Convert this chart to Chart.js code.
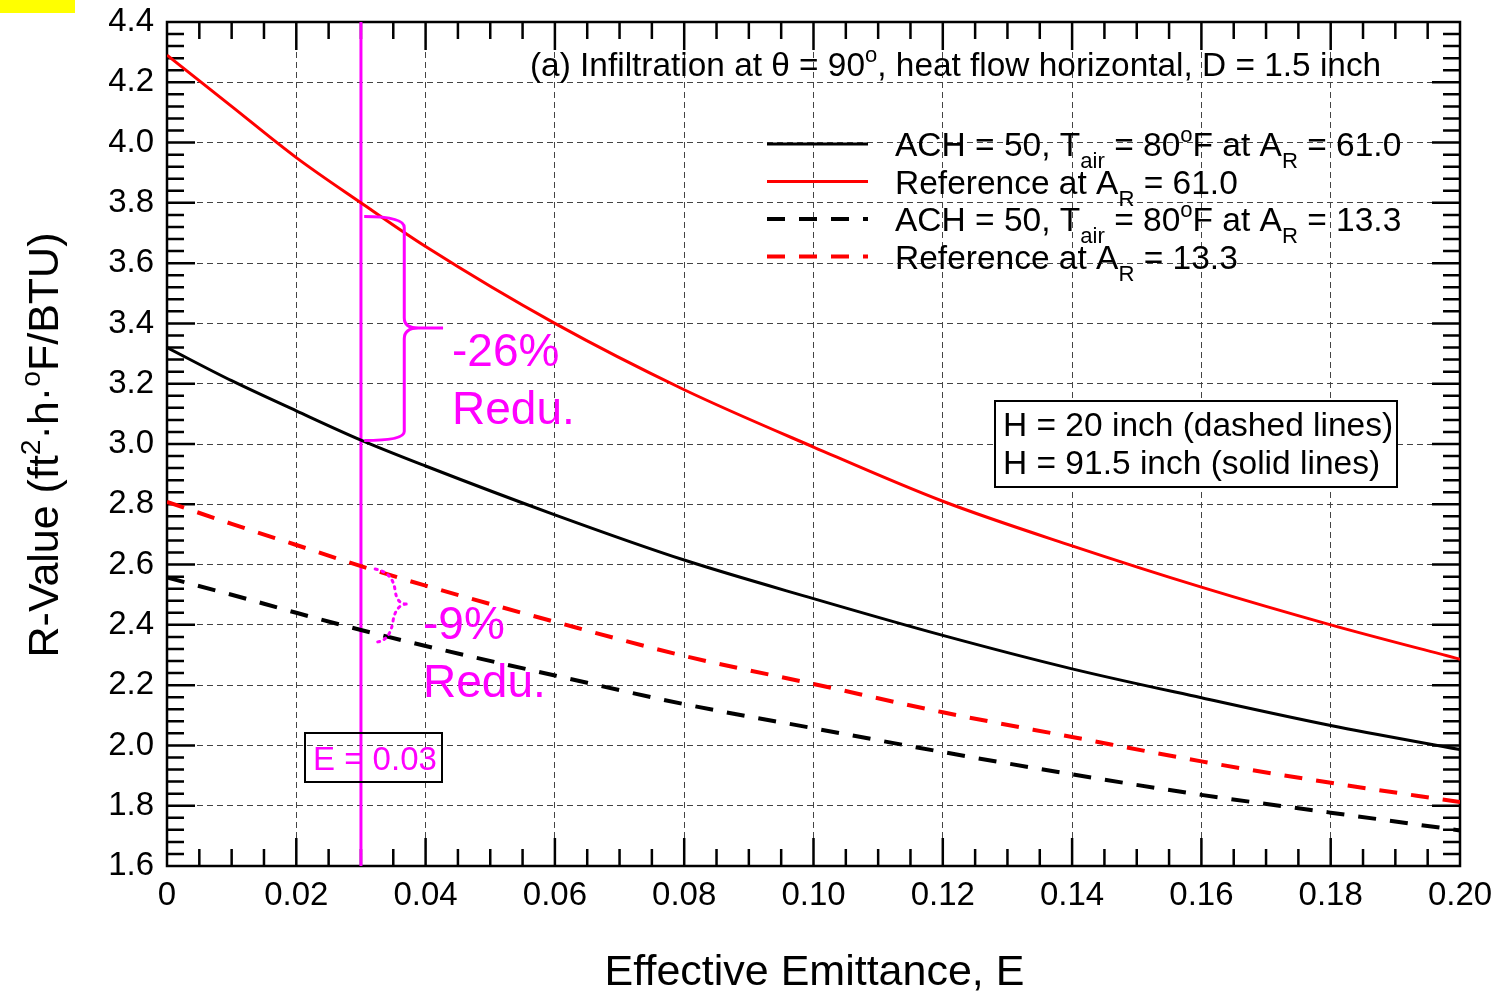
<!DOCTYPE html>
<html>
<head>
<meta charset="utf-8">
<title>R-Value vs Effective Emittance</title>
<script src="https://cdn.jsdelivr.net/npm/chart.js@4.4.0/dist/chart.umd.min.js"></script>
<style>
  html, body { margin: 0; padding: 0; background: #fff; }
  #wrap { width: 1510px; height: 994px; }
</style>
</head>
<body>
<div id="wrap"><canvas id="rChart" width="1510" height="994"></canvas></div>
<script>
// effective emittance E
const emittance = [0, 0.01, 0.02, 0.03, 0.04, 0.06, 0.08, 0.10, 0.12, 0.14, 0.16, 0.18, 0.20];

// R-values, ft2.h.F/BTU
// H = 91.5 inch (solid lines), A_R = 61.0
const achSolid = [3.32, 3.21, 3.11, 3.013, 2.927, 2.765, 2.615, 2.487, 2.365, 2.254, 2.158, 2.066, 1.986];
const refSolid = [4.29, 4.12, 3.95, 3.80, 3.655, 3.40, 3.18, 2.99, 2.81, 2.662, 2.525, 2.40, 2.286];
// H = 20 inch (dashed lines), A_R = 13.3
const achDashed = [2.557, 2.50, 2.44, 2.383, 2.33, 2.232, 2.137, 2.057, 1.978, 1.904, 1.836, 1.777, 1.718];
const refDashed = [2.808, 2.735, 2.665, 2.595, 2.53, 2.41, 2.297, 2.204, 2.11, 2.028, 1.947, 1.876, 1.812];

// marker line
const markE = 0.03;

// axis ranges / ticks
const xMin = 0, xMax = 0.20, xStep = 0.02, xMinor = 0.005;
const yMin = 1.6, yMax = 4.4, yStep = 0.2, yMinor = 0.04;

const FONT = "'Liberation Sans', Arial, Helvetica, sans-serif";
const MAGENTA = '#ff00ff';
const RED = '#ff0000';

function pts(ys) {
  return emittance.map((e, i) => ({ x: e, y: ys[i] }));
}

// draw text runs with sub/superscripts, returns width
function richText(ctx, runs, x, y, size, color, measureOnly) {
  let cx = x;
  for (const r of runs) {
    const s = r.sub || r.sup ? size * 0.66 : size;
    ctx.font = s + 'px ' + FONT;
    let dy = 0;
    if (r.sub) dy = size * 0.36;
    if (r.sup) dy = -size * 0.42;
    if (!measureOnly) {
      ctx.fillStyle = color;
      ctx.fillText(r.t, cx, y + dy);
    }
    cx += ctx.measureText(r.t).width;
  }
  return cx - x;
}

const legendItems = [
  { color: '#000', dash: [], width: 3,
    runs: [{ t: 'ACH = 50, T' }, { t: 'air', sub: 1 }, { t: ' = 80' }, { t: 'o', sup: 1 }, { t: 'F at A' }, { t: 'R', sub: 1 }, { t: ' = 61.0' }] },
  { color: RED, dash: [], width: 3,
    runs: [{ t: 'Reference at A' }, { t: 'R', sub: 1 }, { t: ' = 61.0' }] },
  { color: '#000', dash: [18, 14], width: 4,
    runs: [{ t: 'ACH = 50, T' }, { t: 'air', sub: 1 }, { t: ' = 80' }, { t: 'o', sup: 1 }, { t: 'F at A' }, { t: 'R', sub: 1 }, { t: ' = 13.3' }] },
  { color: RED, dash: [18, 14], width: 4,
    runs: [{ t: 'Reference at A' }, { t: 'R', sub: 1 }, { t: ' = 13.3' }] }
];

// frame and inward major/minor ticks, under the curves
const framePlugin = {
  id: 'frame',
  beforeDatasetsDraw(chart) {
    const ctx = chart.ctx;
    const a = chart.chartArea;
    const xs = chart.scales.x, ys = chart.scales.y;
    ctx.save();
    ctx.strokeStyle = '#000';
    ctx.lineWidth = 2.5;
    ctx.setLineDash([]);
    ctx.strokeRect(a.left, a.top, a.right - a.left, a.bottom - a.top);

    ctx.beginPath();
    const nx = Math.round((xMax - xMin) / xMinor);
    for (let i = 1; i < nx; i++) {
      const len = i % 4 === 0 ? 28 : 17;
      const x = xs.getPixelForValue(xMin + i * xMinor);
      ctx.moveTo(x, a.bottom); ctx.lineTo(x, a.bottom - len);
      ctx.moveTo(x, a.top); ctx.lineTo(x, a.top + len);
    }
    const ny = Math.round((yMax - yMin) / yMinor);
    for (let i = 1; i < ny; i++) {
      const len = i % 5 === 0 ? 28 : 17;
      const y = ys.getPixelForValue(yMin + i * yMinor);
      ctx.moveTo(a.left, y); ctx.lineTo(a.left + len, y);
      ctx.moveTo(a.right, y); ctx.lineTo(a.right - len, y);
    }
    ctx.stroke();
    ctx.restore();
  }
};

const decorPlugin = {
  id: 'decor',
  afterDraw(chart) {
    const ctx = chart.ctx;
    const a = chart.chartArea;
    const xs = chart.scales.x, ys = chart.scales.y;
    const px = v => xs.getPixelForValue(v);
    const py = v => ys.getPixelForValue(v);
    ctx.save();
    ctx.textAlign = 'left';
    ctx.textBaseline = 'alphabetic';

    // corner swatch
    ctx.fillStyle = '#ffff00';
    ctx.fillRect(0, 0, 75, 13);

    // axis titles
    ctx.fillStyle = '#000';
    ctx.font = '43px ' + FONT;
    ctx.textAlign = 'center';
    ctx.fillText('Effective Emittance, E', (a.left + a.right) / 2 + 1, 985);
    ctx.textAlign = 'left';
    const yTitle = [{ t: 'R-Value (ft' }, { t: '2', sup: 1 }, { t: '\u00b7h\u00b7' }, { t: 'o', sup: 1 }, { t: 'F/BTU)' }];
    ctx.save();
    ctx.translate(58, 445);
    ctx.rotate(-Math.PI / 2);
    const tw = richText(ctx, yTitle, 0, 0, 43, '#000', true);
    richText(ctx, yTitle, -tw / 2, 0, 43, '#000');
    ctx.restore();

    // panel title
    richText(ctx, [{ t: '(a) Infiltration at \u03b8 = 90' }, { t: 'o', sup: 1 }, { t: ', heat flow horizontal, D = 1.5 inch' }],
      530, 76, 33.4, '#000');

    // legend
    legendItems.forEach((it, i) => {
      const y = 144 + i * 37.5;
      ctx.beginPath();
      ctx.strokeStyle = it.color;
      ctx.lineWidth = it.width;
      ctx.setLineDash(it.dash);
      ctx.moveTo(767, y);
      ctx.lineTo(868, y);
      ctx.stroke();
      ctx.setLineDash([]);
      richText(ctx, it.runs, 895, y + 12, 33.5, '#000');
    });

    // H note box
    ctx.strokeStyle = '#000';
    ctx.lineWidth = 2;
    ctx.fillStyle = '#fff';
    ctx.fillRect(995, 401, 402, 86);
    ctx.strokeRect(995, 401, 402, 86);
    ctx.fillStyle = '#000';
    ctx.font = '33.5px ' + FONT;
    ctx.fillText('H = 20 inch (dashed lines)', 1003, 436);
    ctx.fillText('H = 91.5 inch (solid lines)', 1003, 474);

    // brace for the A_R = 61.0 pair
    ctx.strokeStyle = MAGENTA;
    ctx.lineWidth = 3;
    const bx0 = px(0.0305), bx1 = px(0.0367), bxt = px(0.0427);
    const bTop = py(3.755), bMid = py(3.385), bBot = py(3.012);
    ctx.beginPath();
    ctx.moveTo(bx0, bTop);
    ctx.quadraticCurveTo(bx1, bTop, bx1, bTop + 11);
    ctx.lineTo(bx1, bMid - 10);
    ctx.quadraticCurveTo(bx1, bMid, bx1 + 14, bMid);
    ctx.lineTo(bxt, bMid);
    ctx.moveTo(bx1 + 14, bMid);
    ctx.quadraticCurveTo(bx1, bMid, bx1, bMid + 11);
    ctx.lineTo(bx1, bBot - 9);
    ctx.quadraticCurveTo(bx1, bBot, bx0, bBot);
    ctx.stroke();

    // dotted brace for the A_R = 13.3 pair
    const dx0 = px(0.0322), dxt = px(0.0370);
    const dTop = py(2.585), dMid = py(2.469), dBot = py(2.343);
    ctx.setLineDash([2, 5]);
    ctx.lineCap = 'round';
    ctx.beginPath();
    ctx.moveTo(dx0, dTop);
    ctx.quadraticCurveTo(dx0 + 18, dTop + 3, dx0 + 20, dTop + 22);
    ctx.quadraticCurveTo(dx0 + 22, dMid, dxt, dMid);
    ctx.moveTo(dxt, dMid);
    ctx.quadraticCurveTo(dx0 + 21, dMid + 1, dx0 + 18, dMid + 16);
    ctx.quadraticCurveTo(dx0 + 15, dBot, dx0, dBot);
    ctx.stroke();
    ctx.setLineDash([]);
    ctx.lineCap = 'butt';

    // reduction labels
    ctx.fillStyle = MAGENTA;
    ctx.font = '46px ' + FONT;
    ctx.fillText('-26%', 452, 366);
    ctx.fillText('Redu.', 452, 424);
    ctx.fillText('-9%', 423, 639);
    ctx.fillText('Redu.', 423, 697);

    // E marker box
    ctx.strokeStyle = '#000';
    ctx.lineWidth = 2;
    ctx.strokeRect(305, 733, 137, 49);
    ctx.font = '33px ' + FONT;
    ctx.fillStyle = MAGENTA;
    ctx.fillText('E = 0.03', 313, 770);

    ctx.restore();
  }
};

const line = (label, ys, color, dash, width) => ({
  label: label,
  data: pts(ys),
  borderColor: color,
  backgroundColor: color,
  borderWidth: width,
  borderDash: dash,
  pointRadius: 0,
  fill: false,
  showLine: true,
  cubicInterpolationMode: 'monotone'
});

new Chart(document.getElementById('rChart').getContext('2d'), {
  type: 'scatter',
  data: {
    datasets: [
      line('ACH = 50, Tair = 80F at AR = 61.0', achSolid, '#000', [], 3),
      line('Reference at AR = 61.0', refSolid, RED, [], 3),
      line('ACH = 50, Tair = 80F at AR = 13.3', achDashed, '#000', [18, 14], 4),
      line('Reference at AR = 13.3', refDashed, RED, [18, 14], 4),
      {
        label: 'E = 0.03',
        data: [{ x: markE, y: yMin }, { x: markE, y: yMax }],
        borderColor: MAGENTA,
        borderWidth: 3,
        pointRadius: 0,
        showLine: true
      }
    ]
  },
  options: {
    responsive: false,
    animation: false,
    devicePixelRatio: 1,
    layout: { padding: { top: 22, right: 50, left: 0, bottom: 0 } },
    plugins: {
      legend: { display: false },
      tooltip: { enabled: false }
    },
    scales: {
      x: {
        type: 'linear',
        min: xMin,
        max: xMax,
        afterFit(s) { s.height = 128; s.paddingLeft = 0; s.paddingRight = 0; },
        ticks: {
          stepSize: xStep,
          autoSkip: false,
          maxRotation: 0,
          padding: 10,
          color: '#000',
          font: { family: FONT, size: 33 },
          callback: v => (Math.abs(v) < 1e-9 ? '0' : v.toFixed(2))
        },
        grid: { color: '#444', lineWidth: 1, drawTicks: false },
        border: { display: false, dash: [6, 4] }
      },
      y: {
        type: 'linear',
        min: yMin,
        max: yMax,
        afterFit(s) { s.width = 167; s.paddingTop = 0; s.paddingBottom = 0; },
        ticks: {
          stepSize: yStep,
          autoSkip: false,
          padding: 13,
          color: '#000',
          font: { family: FONT, size: 33 },
          callback: v => v.toFixed(1)
        },
        grid: { color: '#444', lineWidth: 1, drawTicks: false },
        border: { display: false, dash: [6, 4] }
      }
    }
  },
  plugins: [framePlugin, decorPlugin]
});
</script>
</body>
</html>
